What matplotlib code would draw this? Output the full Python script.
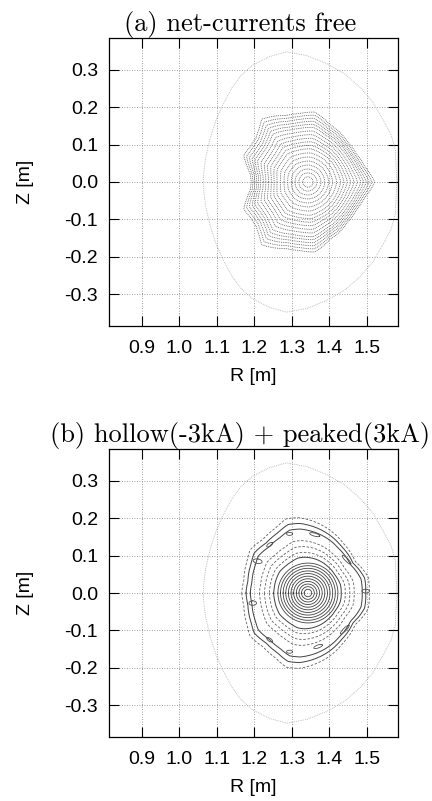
import numpy as np
import matplotlib
matplotlib.use("Agg")
from matplotlib import pyplot as plt

# magnetic axis
axis_R = 1.343
axis_Z = 0.0

# outer dotted boundary (upper half, mirrored in Z)
wall_R = [1.580, 1.578, 1.576, 1.565, 1.544, 1.515, 1.481, 1.440, 1.392, 1.340, 1.286,
          1.240, 1.195, 1.165, 1.142, 1.118, 1.098, 1.082, 1.071, 1.066, 1.064]
wall_Z = [0.000, 0.040, 0.085, 0.125, 0.165, 0.215, 0.254, 0.290, 0.317, 0.338, 0.348,
          0.335, 0.312, 0.285, 0.254, 0.210, 0.165, 0.115, 0.067, 0.030, 0.000]

# (a) last closed surface (upper half)
lcfs_a_R = [1.521, 1.495, 1.472, 1.446, 1.400, 1.361, 1.320, 1.285, 1.220, 1.214,
            1.205, 1.190, 1.172, 1.180, 1.190, 1.192]
lcfs_a_Z = [0.000, 0.040, 0.075, 0.111, 0.155, 0.187, 0.183, 0.178, 0.168, 0.145,
            0.118, 0.095, 0.072, 0.045, 0.020, 0.000]
rho_a = [0.08, 0.14, 0.20, 0.26, 0.32, 0.38, 0.44, 0.50, 0.55, 0.60, 0.65, 0.70,
         0.75, 0.80, 0.84, 0.88, 0.92, 0.96, 1.00]

# (b) outer surface (upper half)
lcfs_b_R = [1.497, 1.494, 1.463, 1.432, 1.392, 1.321, 1.290, 1.263, 1.232, 1.200,
            1.192, 1.183, 1.178]
lcfs_b_Z = [0.000, 0.040, 0.080, 0.125, 0.161, 0.186, 0.183, 0.161, 0.134, 0.107,
            0.080, 0.031, 0.000]
core_b = [0.010, 0.017, 0.024, 0.031, 0.038, 0.045, 0.052, 0.059, 0.066, 0.073, 0.080]
rho_b_solid = [0.55, 0.93, 1.00]
rho_b_dashed = [0.62, 0.70, 0.78, 1.07]

# (b) island positions and half sizes
isl_R = [1.294, 1.361, 1.241, 1.446, 1.209, 1.196, 1.241, 1.294, 1.370, 1.441, 1.497]
isl_Z = [0.158, 0.156, 0.129, 0.089, 0.085, -0.027, -0.125, -0.157, -0.143, -0.098, 0.005]
isl_a = [0.008, 0.014, 0.009, 0.016, 0.006, 0.006, 0.009, 0.008, 0.012, 0.016, 0.005]
isl_b = [0.004, 0.004, 0.004, 0.004, 0.012, 0.010, 0.004, 0.004, 0.004, 0.004, 0.010]
isl_ang = [0, -15, 35, -45, 80, 90, -35, 0, 20, 45, 90]

xticks = [0.9, 1.0, 1.1, 1.2, 1.3, 1.4, 1.5]
yticks = [-0.3, -0.2, -0.1, 0.0, 0.1, 0.2, 0.3]
titles = ["(a) net-currents free", "(b) hollow(-3kA) + peaked(3kA)"]

plt.rcParams['font.family'] = ['Liberation Sans', 'DejaVu Sans']
plt.rcParams['font.size'] = 14


def full(R, Z):
    R = np.array(R)
    Z = np.array(Z)
    return np.r_[R, R[::-1][1:]], np.r_[Z, -Z[::-1][1:]]


def shape(R, Z):
    R, Z = full(R, Z)
    th = np.arctan2(Z - axis_Z, R - axis_R)
    r = np.hypot(R - axis_R, Z - axis_Z)
    o = np.argsort(th)
    return th[o], r[o]


def surface(th_b, r_b, rho, th):
    rb = np.interp(th, th_b, r_b, period=2 * np.pi)
    w = rho ** 1.5
    r = rho * (rb.mean() * (1 - w) + rb * w)
    return axis_R + r * np.cos(th), axis_Z + r * np.sin(th)


fig = plt.figure(figsize=(4.32, 8.01), dpi=100)
ax1 = fig.add_axes([109 / 432, 1 - 326 / 801, 289 / 432, 288 / 801])
ax2 = fig.add_axes([109 / 432, 1 - 737 / 801, 289 / 432, 288 / 801])
th = np.linspace(-np.pi, np.pi, 400)
dot = (0, (1, 1.2))

wR, wZ = full(wall_R, wall_Z)
for ax in (ax1, ax2):
    ax.plot(wR, wZ, color="#b0b0b0", lw=0.6, ls=dot)

# (a)
tha, ra = shape(lcfs_a_R, lcfs_a_Z)
for rho in rho_a:
    x, y = surface(tha, ra, rho, th)
    ax1.plot(np.r_[x, x[0]], np.r_[y, y[0]], color="#505050", lw=0.6, ls=dot)

# (b)
thb, rb = shape(lcfs_b_R, lcfs_b_Z)
for r in core_b:
    ax2.plot(axis_R + r * np.cos(th), axis_Z + r * np.sin(th), color="#404040", lw=0.6)
for rho in rho_b_solid:
    x, y = surface(thb, rb, rho, th)
    ax2.plot(x, y, color="#404040", lw=0.7)
for rho in rho_b_dashed:
    x, y = surface(thb, rb, rho, th)
    ax2.plot(x, y, color="#606060", lw=0.6, ls=(0, (3, 2)))
t = np.linspace(0, 2 * np.pi, 60)
for cr, cz, a, b, ang in zip(isl_R, isl_Z, isl_a, isl_b, isl_ang):
    c, s = np.cos(np.radians(ang)), np.sin(np.radians(ang))
    ex, ey = a * np.cos(t), b * np.sin(t)
    ax2.plot(cr + ex * c - ey * s, cz + ex * s + ey * c, color="#505050", lw=0.6)

for ax, title in zip((ax1, ax2), titles):
    ax.set_xlim(0.813, 1.583)
    ax.set_ylim(-0.385, 0.385)
    ax.set_xticks(xticks)
    ax.set_yticks(yticks)
    ax.set_xticklabels([f"{v:.1f}" for v in xticks])
    ax.set_yticklabels([f"{v:.1f}" for v in yticks])
    ax.grid(True, color="#808080", lw=0.6, ls=(0, (1, 2)))
    ax.tick_params(direction="in", top=True, right=True, length=7, width=0.8)
    ax.tick_params(axis="x", pad=10)
    ax.tick_params(axis="y", pad=8)
    for sp in ax.spines.values():
        sp.set_linewidth(0.9)
    ax.set_xlabel("R [m]", labelpad=8)
    ax.set_ylabel("Z [m]", labelpad=22)
    ax.set_title(title, family="cmr10", fontsize=19, pad=5, x=0.453)

plt.savefig("out.png", dpi=100)
